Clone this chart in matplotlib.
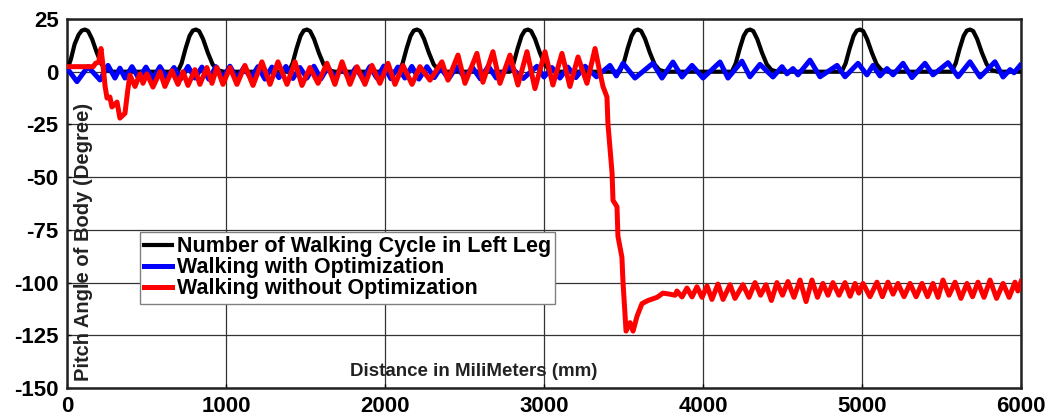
#!/usr/bin/env python3
"""
Pitch angle of the body vs walking distance,
with and without optimization, plus the left leg walking cycle.
"""

import matplotlib
matplotlib.use("Agg")
import matplotlib.pyplot as plt

# Left leg walking cycle (one row per step)
cycle_x = [
    0, 25, 48, 73, 93, 113, 133, 158, 188, 218, 248, 288,
    696, 721, 746, 771, 791, 811, 831, 856, 886, 916, 946, 986,
    1394, 1419, 1444, 1469, 1489, 1509, 1529, 1554, 1584, 1614, 1644, 1684,
    2086, 2111, 2136, 2161, 2181, 2201, 2221, 2246, 2276, 2306, 2336, 2376,
    2784, 2809, 2834, 2859, 2879, 2899, 2919, 2944, 2974, 3004, 3034, 3074,
    3476, 3501, 3526, 3551, 3571, 3591, 3611, 3636, 3666, 3696, 3726, 3766,
    4181, 4206, 4231, 4256, 4276, 4296, 4316, 4341, 4371, 4401, 4431, 4471,
    4872, 4897, 4922, 4947, 4967, 4987, 5007, 5032, 5062, 5092, 5122, 5162,
    5564, 5589, 5614, 5639, 5659, 5679, 5699, 5724, 5754, 5784, 5814, 5854,
    6000,
]
cycle_y = [
    0.5, 6, 13, 17.5, 19.5, 20, 19.3, 15.5, 9, 3.5, 0.8, 0,
    0, 4, 11, 17, 19.5, 20, 19.3, 15.5, 9, 3.5, 0.8, 0,
    0, 4, 11, 17, 19.5, 20, 19.3, 15.5, 9, 3.5, 0.8, 0,
    0, 4, 11, 17, 19.5, 20, 19.3, 15.5, 9, 3.5, 0.8, 0,
    0, 4, 11, 17, 19.5, 20, 19.3, 15.5, 9, 3.5, 0.8, 0,
    0, 4, 11, 17, 19.5, 20, 19.3, 15.5, 9, 3.5, 0.8, 0,
    0, 4, 11, 17, 19.5, 20, 19.3, 15.5, 9, 3.5, 0.8, 0,
    0, 4, 11, 17, 19.5, 20, 19.3, 15.5, 9, 3.5, 0.8, 0,
    0, 4, 11, 17, 19.5, 20, 19.3, 15.5, 9, 3.5, 0.8, 0,
    0,
]

# Walking with optimization (peaks / troughs)
opt_x = [
    0, 63, 132, 208, 258, 302, 333, 365, 409, 452, 497, 540, 585, 628,
    673, 716, 761, 805, 849, 893, 937, 981, 1025, 1069, 1113, 1157, 1201,
    1245, 1289, 1333, 1377, 1421, 1465, 1509, 1553, 1597, 1641, 1685, 1729,
    1773, 1817, 1861, 1905, 1949, 1993, 2037, 2081, 2125, 2169, 2213, 2264,
    2310, 2350, 2400, 2450, 2500, 2550, 2600, 2650, 2700, 2786, 2870, 2956,
    3000, 3050, 3100, 3150, 3200, 3258, 3330, 3415, 3455, 3497, 3572, 3685,
    3742, 3811, 3868, 3931, 4000, 4107, 4157, 4245, 4295, 4358, 4440, 4497,
    4528, 4566, 4597, 4673, 4736, 4843, 4893, 4975, 5031, 5069, 5113, 5157,
    5195, 5258, 5314, 5396, 5446, 5541, 5604, 5679, 5742, 5836, 5887, 5931,
    5956, 5994,
]
opt_y = [
    1.7, -4.7, 2.4, -3.9, 3.0, -3.0, 1.7, -3.0, 2.4, -3.2, 2.2, -3.5, 2.4, -3.0,
    2.0, -3.4, 2.5, -3.0, 2.2, -3.6, 2.4, -3.0, 2.6, -3.3, 2.0, -3.0, 2.4,
    -3.5, 2.2, -2.8, 2.5, -3.2, 2.0, -3.0, 2.6, -3.4, 2.2, -3.0, 2.4,
    -3.2, 2.0, -3.6, 2.4, -3.0, 2.7, -3.3, 2.2, -3.0, 2.5, -3.5, 2.4,
    -2.8, 1.8, -3.4, 2.4, -2.6, 2.0, -3.4, 2.6, -3.0, 2.4, -3.2, 2.6,
    -2.5, 2.0, -3.0, 2.2, -2.8, 2.6, -2.4, 3.0, -2.0, 4.0, -3.0, 4.0,
    -3.0, 4.6, -2.5, 3.0, -3.0, 4.6, -3.0, 5.0, -2.4, 3.5, -2.5, 2.4,
    -1.0, 1.5, -1.5, 5.5, -2.4, 3.0, -2.4, 4.0, -1.5, 3.0, -2.0, 1.5,
    -1.5, 4.0, -2.8, 4.0, -1.5, 4.3, -2.4, 4.7, -2.5, 4.7, -2.5, 1.0,
    -0.5, 3.0,
]

# Walking without optimization (falls after ~3300 mm)
noopt_x = [
    0, 165, 180, 200, 214, 228, 240, 252, 270, 283, 315, 333, 365, 382,
    396, 428, 459, 478, 503, 541, 585, 616, 660, 698, 730, 761, 805, 836,
    880, 912, 943, 981, 1025, 1069, 1119, 1170, 1226, 1277, 1327, 1384,
    1434, 1478, 1528, 1579, 1635, 1685, 1730, 1780, 1824, 1874, 1918, 1968,
    2019, 2063, 2113, 2170, 2220, 2283, 2358, 2396, 2459, 2503, 2578, 2616,
    2679, 2723, 2786, 2836, 2893, 2943, 3006, 3056, 3113, 3163, 3214, 3270,
    3321, 3345, 3371, 3396, 3402, 3428, 3434, 3459, 3465, 3490, 3497, 3516,
    3541, 3560, 3585, 3616, 3654, 3711, 3748, 3792, 3824, 3836, 3868, 3899,
    3931, 3962, 3994, 4025, 4056, 4094, 4126, 4170, 4201, 4251, 4289, 4327,
    4362, 4396, 4430, 4465, 4500, 4534, 4572, 4610, 4648, 4685, 4720, 4754,
    4786, 4817, 4855, 4893, 4925, 4956, 4980, 5006, 5050, 5094, 5128, 5163,
    5195, 5226, 5264, 5302, 5340, 5377, 5412, 5446, 5478, 5509, 5547, 5585,
    5622, 5660, 5695, 5729, 5767, 5805, 5846, 5887, 5925, 5962, 5980, 6000,
]
noopt_y = [
    2.4, 2.4, 4, 4.5, 11, 2, -7, -12.5, -12, -16.7, -14.4, -22, -19.7, -9,
    -1.6, -7, -1, -5.5, -1, -7.3, 0, -7, 0.5, -6, 0, -6.5, 1, -6,
    2, -5.5, 2, -6, 2, -6, 3, -6.5, 4.7, -6, 4.7, -6,
    4.7, -6.5, 2, -5.5, 4, -6, 4.7, -6, 2.4, -6, 3, -5.5,
    4, -6, 3, -6, 2.4, -4, 4.7, -4, 7.9, -5.5, 8.7, -5,
    9.5, -5.5, 7.9, -6.3, 9.5, -8, 9.5, -6.3, 8.7, -7, 7, -5.5,
    11, 2, -7, -12, -24.5, -48, -61, -64, -78, -88, -100, -123,
    -119, -123, -116, -110, -108.5, -107, -105, -105.5, -106, -104, -106.8, -102.6,
    -106.8, -102, -107, -101.6, -108, -100.7, -108, -101, -107.5, -101, -107, -100,
    -106, -101, -108.5, -100, -106, -99.5, -107, -98.8, -109, -98.8, -107, -100.4,
    -106, -100, -106, -100, -106.5, -100.4, -105, -100.4, -106.7, -99.8, -106.7, -99.8,
    -105.5, -100.4, -106.7, -100.4, -106.7, -100.4, -106.7, -100.4, -107, -98.8, -106, -99.8,
    -107.5, -100.4, -106.7, -99.8, -107, -98.8, -107.5, -100.4, -107, -99.8, -104, -99.5,
]

series_labels = [
    "Number of Walking Cycle in Left Leg",
    "Walking with Optimization",
    "Walking without Optimization",
]
x_ticks = [0, 1000, 2000, 3000, 4000, 5000, 6000]
y_ticks = [25, 0, -25, -50, -75, -100, -125, -150]


def main():
    plt.rcParams["font.family"] = ["Liberation Sans", "DejaVu Sans"]
    plt.rcParams["axes.unicode_minus"] = False

    fig = plt.figure(figsize=(10.51, 4.16), dpi=100)
    ax = fig.add_axes([0.0637, 0.0673, 0.9078, 0.887])

    ax.plot(cycle_x, cycle_y, color="black", lw=3.0, label=series_labels[0],
            solid_joinstyle="round", zorder=3)
    ax.plot(opt_x, opt_y, color="#0000ff", lw=3.6, label=series_labels[1],
            solid_joinstyle="round", zorder=4)
    ax.plot(noopt_x, noopt_y, color="#ff0000", lw=3.6, label=series_labels[2],
            solid_joinstyle="round", zorder=5)

    ax.set_xlim(0, 6000)
    ax.set_ylim(-150, 25)
    ax.set_xticks(x_ticks)
    ax.set_yticks(y_ticks)
    ax.tick_params(direction="in", length=3, width=1, labelsize=16, pad=6)
    for lab in ax.get_xticklabels() + ax.get_yticklabels():
        lab.set_fontweight("bold")

    ax.grid(True, color="#333333", lw=0.9, zorder=1)
    for sp in ax.spines.values():
        sp.set_linewidth(1.8)
        sp.set_color("#222222")

    # axis labels sit inside the plot area in the original
    ax.text(0.0175, 0.395, "Pitch Angle of Body (Degree)", transform=ax.transAxes,
            rotation=90, ha="center", va="center", fontsize=14.5,
            fontweight="bold", color="#222222", zorder=6)
    ax.text(0.4266, 0.045, "Distance in MiliMeters (mm)", transform=ax.transAxes,
            ha="center", va="center", fontsize=13.5, fontweight="bold",
            color="#222222", zorder=6)

    leg = ax.legend(loc="upper left", bbox_to_anchor=(0.0765, 0.4228),
                    borderaxespad=0, handlelength=1.3,
                    handletextpad=0.2, labelspacing=0.0, borderpad=0.2,
                    fancybox=False, framealpha=1, edgecolor="#808080",
                    prop={"weight": "bold", "size": 15.5})
    leg.get_frame().set_linewidth(1.0)
    leg.set_zorder(7)

    fig.savefig("out.png", dpi=100)


if __name__ == "__main__":
    main()
